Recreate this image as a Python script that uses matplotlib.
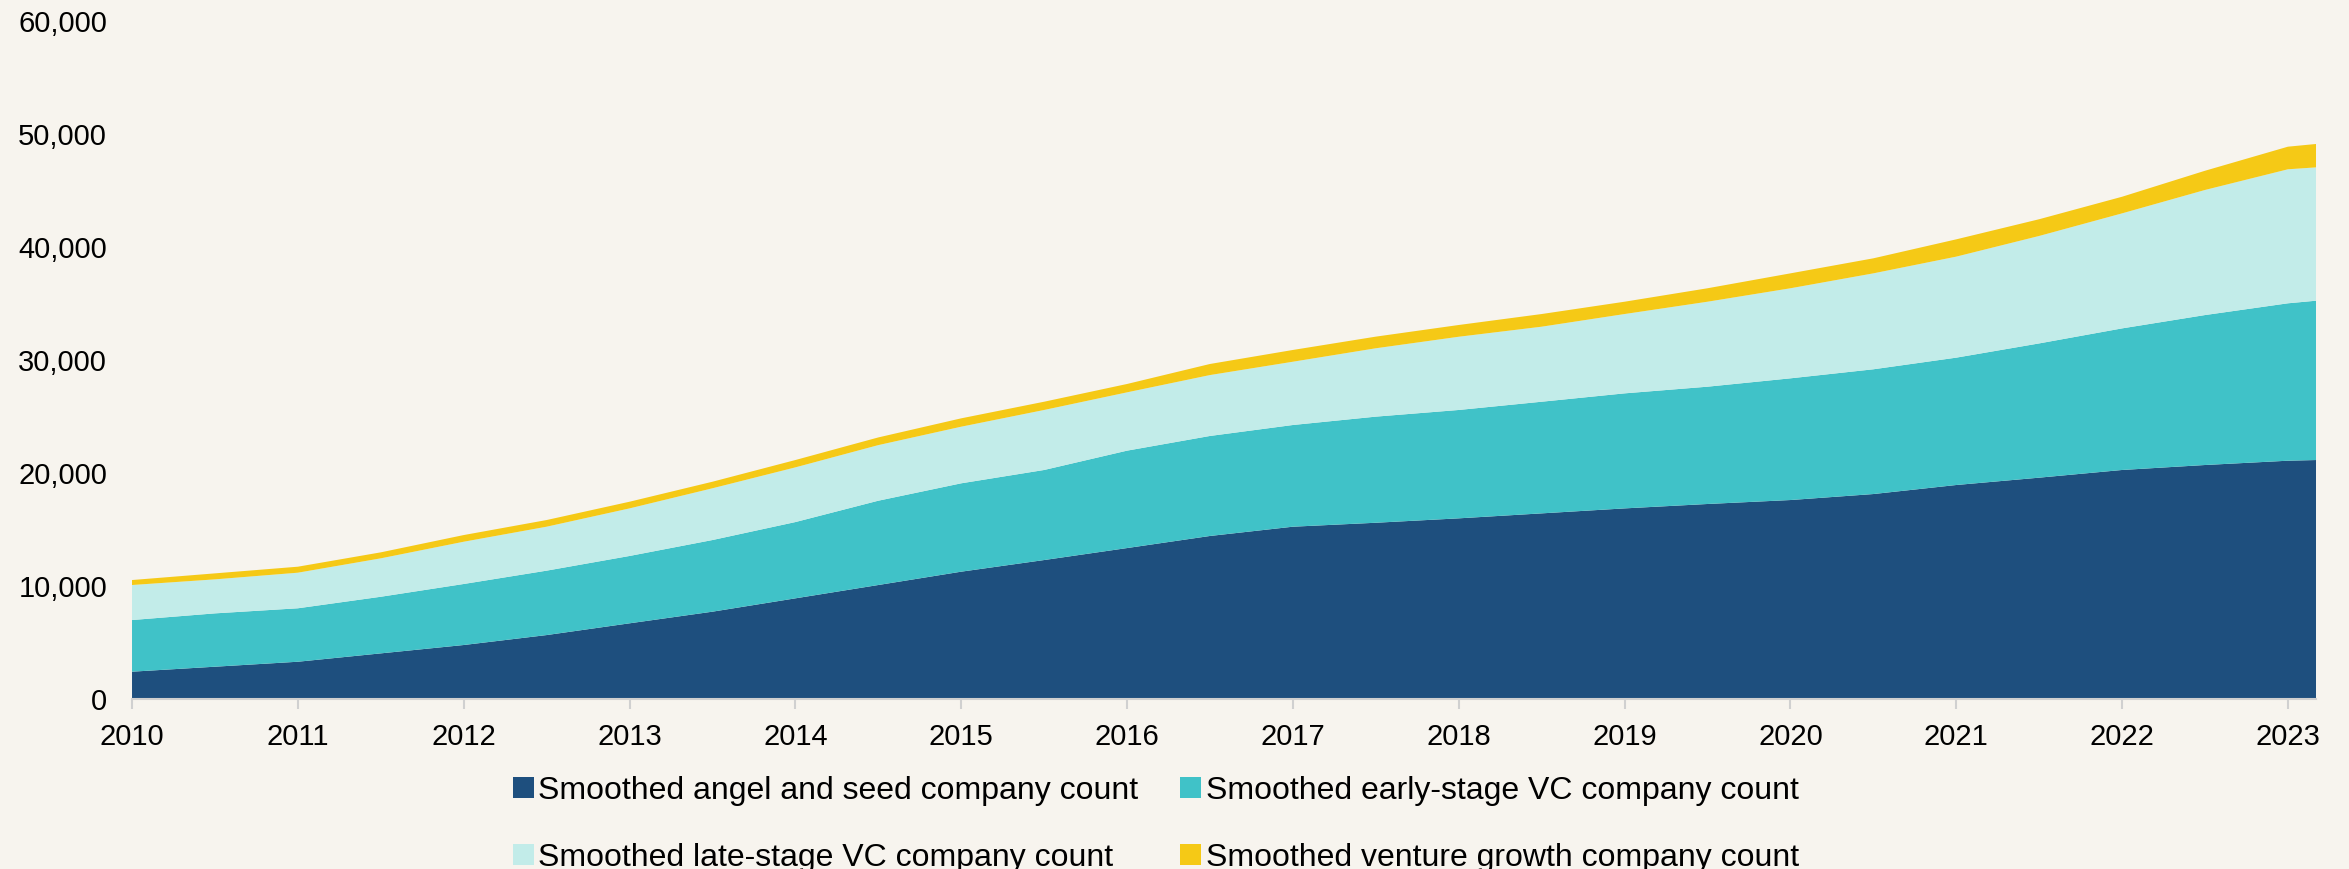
import numpy as np
import matplotlib.pyplot as plt
from matplotlib.ticker import FuncFormatter

plt.rcParams['font.family'] = ['Liberation Sans', 'DejaVu Sans']

# half-year positions (last point is end of Q1 2023)
years = [2010, 2010.5, 2011, 2011.5, 2012, 2012.5, 2013, 2013.5, 2014, 2014.5,
         2015, 2015.5, 2016, 2016.5, 2017, 2017.5, 2018, 2018.5, 2019, 2019.5,
         2020, 2020.5, 2021, 2021.5, 2022, 2022.5, 2023, 2023.17]

angel_seed = [2420, 2860, 3300, 4040, 4780, 5660, 6700, 7730, 8910, 10090,
              11270, 12300, 13360, 14430, 15250, 15600, 15990, 16430, 16870, 17260,
              17610, 18140, 18940, 19590, 20270, 20710, 21090, 21150]
early_vc = [4570, 4720, 4730, 5010, 5400, 5700, 5960, 6340, 6750, 7460,
            7820, 7970, 8620, 8850, 9000, 9390, 9590, 9880, 10180, 10380,
            10770, 11040, 11270, 11880, 12530, 13270, 13930, 14100]
late_vc = [3100, 3010, 3150, 3400, 3740, 3890, 4210, 4580, 4840, 4920,
           5010, 5310, 5160, 5390, 5600, 6050, 6480, 6640, 7020, 7520,
           7970, 8490, 8940, 9510, 10180, 11070, 11860, 11800]
venture_growth = [440, 530, 530, 530, 590, 590, 590, 580, 650, 680,
                  740, 730, 740, 980, 1040, 1030, 1040, 1120, 1090, 1190,
                  1320, 1330, 1530, 1480, 1470, 1700, 2000, 2070]

labels = ['Smoothed angel and seed company count',
          'Smoothed early-stage VC company count',
          'Smoothed late-stage VC company count',
          'Smoothed venture growth company count']
colors = ['#1E4F7E', '#40C2C8', '#C2ECE9', '#F5C916']
bg = '#F7F4EE'

fig = plt.figure(figsize=(23.49, 8.69), dpi=100, facecolor=bg)
ax = fig.add_axes([0.0562, 0.1956, 0.9298, 0.7802], facecolor=bg)

polys = ax.stackplot(years, angel_seed, early_vc, late_vc, venture_growth,
                     colors=colors, labels=labels, linewidth=0)

ax.set_xlim(2010, 2023.17)
ax.set_ylim(0, 60000)
ax.set_xticks(range(2010, 2024))
ax.set_yticks(range(0, 60001, 10000))
ax.yaxis.set_major_formatter(FuncFormatter(lambda v, p: f'{int(v):,}'))

for s in ['top', 'right', 'left']:
    ax.spines[s].set_visible(False)
ax.spines['bottom'].set_color('#D0D0D0')
ax.spines['bottom'].set_linewidth(1.5)
ax.tick_params(axis='y', length=0, pad=18, labelsize=21)
ax.tick_params(axis='x', length=7, width=1.5, color='#D0D0D0', pad=10, labelsize=21)

# legend fills columns first, so reorder to read row by row
order = [0, 2, 1, 3]
fig.legend([polys[i] for i in order], [labels[i] for i in order],
           loc='upper center', bbox_to_anchor=(0.492, 0.107), ncol=2, frameon=False,
           fontsize=23, handlelength=0.65, handleheight=0.65, handletextpad=0.15,
           columnspacing=1.3, labelspacing=1.15, borderpad=0, borderaxespad=0)

fig.savefig('out.png', dpi=100, facecolor=bg)
